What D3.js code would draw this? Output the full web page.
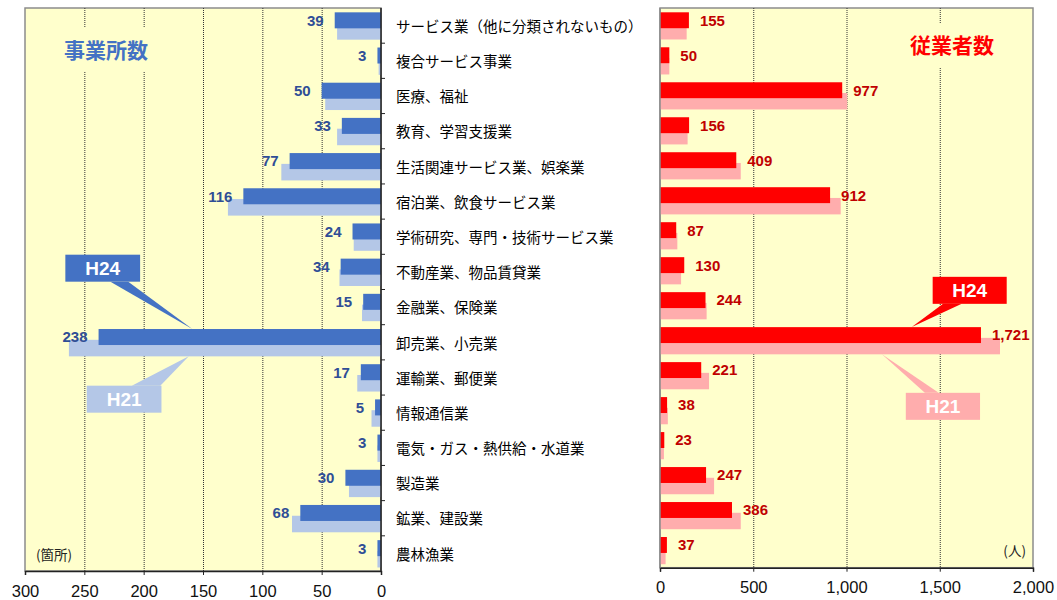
<!DOCTYPE html>
<html>
<head>
<meta charset="utf-8">
<script src="https://cdn.jsdelivr.net/npm/d3@7"></script>
<style>
  body{ margin:0; background:#fff; }
  svg{ display:block; }
</style>
</head>
<body>
<svg id="chart" width="1057" height="600"></svg>
<script>
// ---- data ----
const categories = [
  "サービス業（他に分類されないもの）",
  "複合サービス事業",
  "医療、福祉",
  "教育、学習支援業",
  "生活関連サービス業、娯楽業",
  "宿泊業、飲食サービス業",
  "学術研究、専門・技術サービス業",
  "不動産業、物品賃貸業",
  "金融業、保険業",
  "卸売業、小売業",
  "運輸業、郵便業",
  "情報通信業",
  "電気・ガス・熱供給・水道業",
  "製造業",
  "鉱業、建設業",
  "農林漁業"
];
const estH24 = [39, 3, 50, 33, 77, 116, 24, 34, 15, 238, 17, 5, 3, 30, 68, 3];
const estH21 = [37, 2, 47, 37, 84, 129, 23, 35, 16, 263, 20, 8, 3, 27, 75, 3];
const empH24 = [155, 50, 977, 156, 409, 912, 87, 130, 244, 1721, 221, 38, 23, 247, 386, 37];
const empH21 = [143, 50, 1004, 148, 433, 969, 93, 113, 250, 1823, 263, 42, 21, 290, 433, 30];
const estTicks = [300, 250, 200, 150, 100, 50, 0];
const empTicks = [0, 500, 1000, 1500, 2000];

const JP = "'Noto Sans CJK JP', 'Noto Sans', sans-serif";
const NUM = "'Liberation Sans', Arial, sans-serif";
const fmt = d3.format(",");

const svg = d3.select("#chart");

/** one panel: left (mirrored) or right */
function drawPanel(o){
  const g = svg.append("g");
  const x = d3.scaleLinear().domain(o.domain).range(o.range);
  const y = d3.scaleBand().domain(categories).range([o.top, o.bottom]);
  const bw = y.bandwidth();
  const x0 = x(0);
  const xl = Math.min(o.range[0], o.range[1]), xr = Math.max(o.range[0], o.range[1]);

  // plot background + frame
  g.append("rect")
    .attr("x", xl).attr("y", o.top).attr("width", xr-xl).attr("height", o.bottom-o.top)
    .attr("fill", "#FFFFCC").attr("stroke", "#8c8c8c").attr("stroke-width", 1.5);

  // dotted grid
  g.selectAll("line.grid")
    .data(o.ticks.filter(t=>t!==0 && t!==o.domain[1]))
    .enter().append("line")
    .attr("x1", d=>x(d)+0.5).attr("x2", d=>x(d)+0.5)
    .attr("y1", o.top).attr("y2", o.bottom)
    .attr("stroke", "#333").attr("stroke-dasharray", "1,1");

  // title (sits on a patch of plot colour, hiding the grid)
  g.append("rect")
    .attr("x", o.titleX-47).attr("y", o.titleY-22).attr("width", 94).attr("height", 44)
    .attr("fill", "#FFFFCC");
  g.append("text")
    .attr("x", o.titleX).attr("y", o.titleY).attr("dy", "0.36em")
    .attr("text-anchor", "middle")
    .attr("font-family", JP).attr("font-weight", "bold").attr("font-size", 21)
    .attr("fill", o.titleColor).text(o.title);

  // unit label
  g.append("text")
    .attr("x", o.unitX).attr("y", o.bottom-16).attr("dy", "0.35em")
    .attr("text-anchor", o.unitAnchor)
    .attr("font-family", JP).attr("font-size", 13.5).attr("fill", "#222")
    .text(o.unit);

  const rows = categories.map((c,i)=>({c, a:o.h24[i], b:o.h21[i]}));

  // H21 (behind)
  g.selectAll("rect.h21")
    .data(rows).enter().append("rect")
    .attr("x", d=>Math.min(x0, x(d.b)))
    .attr("width", d=>Math.abs(x(d.b)-x0))
    .attr("y", d=>y(d.c)+bw*0.43)
    .attr("height", bw*0.47)
    .attr("fill", o.light);

  // H24 (front)
  g.selectAll("rect.h24")
    .data(rows).enter().append("rect")
    .attr("x", d=>Math.min(x0, x(d.a)))
    .attr("width", d=>Math.abs(x(d.a)-x0))
    .attr("y", d=>y(d.c)+bw*0.123)
    .attr("height", bw*0.455)
    .attr("fill", o.dark);

  // value labels
  g.selectAll("text.val")
    .data(rows).enter().append("text")
    .attr("x", d=>x(d.a) + o.dir*11)
    .attr("y", d=>y(d.c)+bw*0.35).attr("dy", "0.36em")
    .attr("text-anchor", o.dir<0 ? "end" : "start")
    .attr("font-family", NUM).attr("font-weight", "bold").attr("font-size", 15)
    .attr("fill", o.labelColor)
    .text(d=>fmt(d.a));

  // bottom axis
  const ax = g.append("g")
    .attr("transform", `translate(0,${o.bottom})`)
    .call(d3.axisBottom(x).tickValues(o.ticks).tickSize(4).tickPadding(10).tickFormat(fmt));
  ax.select(".domain").attr("stroke", "#222").attr("stroke-width", 1.5);
  ax.selectAll(".tick line").attr("stroke", "#222");
  ax.selectAll(".tick text")
    .attr("font-family", NUM).attr("font-size", 16.5).attr("fill", "#111");

  // zero axis with category boundary ticks
  g.append("line")
    .attr("x1", x0).attr("x2", x0).attr("y1", o.top).attr("y2", o.bottom)
    .attr("stroke", o.zeroStroke).attr("stroke-width", 1.5);
  if(o.catTicks){
    g.selectAll("line.ct")
      .data(categories.slice(1)).enter().append("line")
      .attr("x1", x0).attr("x2", x0 + o.catTicks)
      .attr("y1", d=>y(d)).attr("y2", d=>y(d))
      .attr("stroke", "#222");
  }

  // callouts pointing at the biggest row
  const big = categories[9];
  o.callouts.forEach(cl=>{
    const tipX = x(cl.tipV), tipY = y(big) + bw*cl.tipF;
    const bx0 = x(cl.boxV0), bx1 = x(cl.boxV1);
    const left = Math.min(bx0,bx1), right = Math.max(bx0,bx1);
    const by = y(big) + cl.boxDy;
    const baseY = cl.baseTop ? by : by + 27;
    const b0 = x(cl.baseV0), b1 = x(cl.baseV1);
    g.append("path")
      .attr("d", `M${b0},${baseY}L${tipX},${tipY}L${b1},${baseY}Z`)
      .attr("fill", cl.fill);
    g.append("rect")
      .attr("x", left).attr("y", by).attr("width", right-left).attr("height", 27)
      .attr("fill", cl.fill);
    g.append("text")
      .attr("x", (left+right)/2).attr("y", by+13.5).attr("dy", "0.36em")
      .attr("text-anchor", "middle")
      .attr("font-family", NUM).attr("font-weight", "bold").attr("font-size", 19)
      .attr("fill", "#fff").text(cl.label);
  });
}

drawPanel({
  domain:[0,300], range:[381,25], top:8, bottom:571, ticks:estTicks,
  h24:estH24, h21:estH21, dir:-1,
  dark:"#4472C4", light:"#B4C7E7", labelColor:"#2F4E96",
  title:"事業所数", titleX:106, titleY:50, titleColor:"#4472C4",
  unit:"(箇所)", unitX:36, unitAnchor:"start",
  zeroStroke:"#222", catTicks:4,
  callouts:[
    {label:"H24", fill:"#4472C4", tipV:159, tipF:0.12, boxV0:266, boxV1:203, boxDy:-70, baseTop:false, baseV0:228, baseV1:213},
    {label:"H21", fill:"#B4C7E7", tipV:162, tipF:0.9, boxV0:248, boxV1:185, boxDy:61, baseTop:true, baseV0:210, baseV1:186}
  ]
});

drawPanel({
  domain:[0,2000], range:[660,1033], top:8, bottom:567.7, ticks:empTicks,
  h24:empH24, h21:empH21, dir:1,
  dark:"#FF0000", light:"#FFADAD", labelColor:"#C00000",
  title:"従業者数", titleX:952, titleY:45, titleColor:"#FF0000",
  unit:"(人)", unitX:1026, unitAnchor:"end",
  zeroStroke:"#8c8c8c", catTicks:0,
  callouts:[
    {label:"H24", fill:"#FF0000", tipV:1350, tipF:0.12, boxV0:1462, boxV1:1859, boxDy:-46, baseTop:false, baseV0:1518, baseV1:1618},
    {label:"H21", fill:"#FFADAD", tipV:1190, tipF:0.9, boxV0:1318, boxV1:1716, boxDy:70, baseTop:true, baseV0:1420, baseV1:1494}
  ]
});

// category names in the middle column
svg.append("g").selectAll("text")
  .data(categories).enter().append("text")
  .attr("x", 396)
  .attr("y", (d,i)=>8 + (i+0.5)*(571-8)/categories.length + 1)
  .attr("dy", "0.36em")
  .attr("font-family", JP).attr("font-size", 14.5).attr("fill", "#000")
  .text(d=>d);
</script>
</body>
</html>
